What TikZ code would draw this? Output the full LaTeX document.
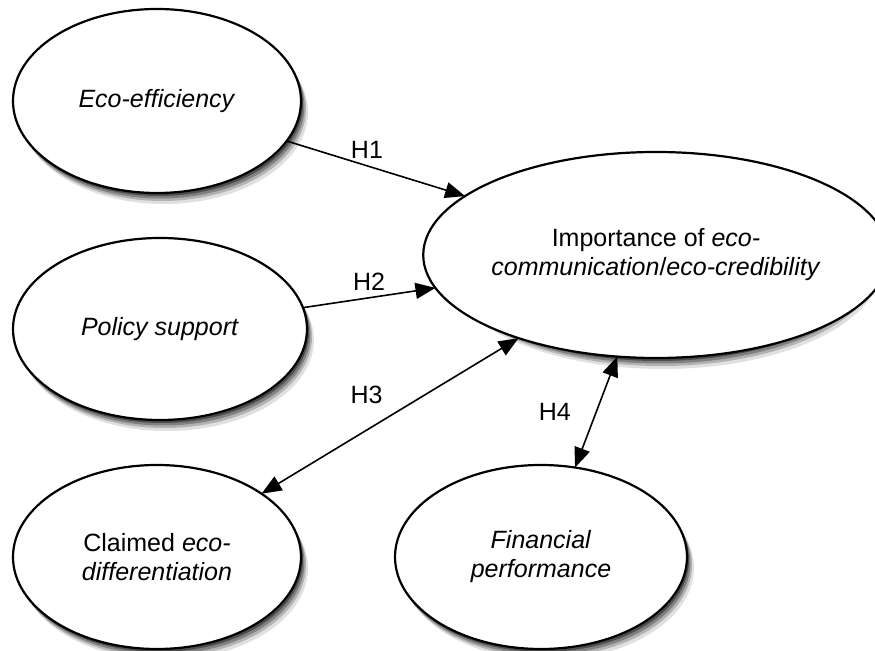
\documentclass[tikz,border=0pt]{standalone}
\usepackage{fontspec}
\setmainfont{Liberation Sans}
\usetikzlibrary{positioning,arrows.meta,shapes.geometric}

\begin{document}
\begin{tikzpicture}[x=0.5pt,y=-0.5pt,>={Triangle[length=10pt,width=8pt]},
  font=\fontsize{12.5}{14.5}\selectfont,
  construct/.style={ellipse,draw,line width=1.1pt,fill=white,inner sep=0pt,outer sep=0pt,align=center},
  hyp/.style={line width=0.8pt}]
\useasboundingbox (0,0) rectangle (875,651);
% soft shadows under the ellipses
\foreach \cx/\cy/\rx/\ry in {157/101/144/92,160/329/147/91,157/557/144/92,541/557/146/92,656/255/218/103}{
  \fill[black!12] (\cx+7,\cy+11) ellipse [x radius=\rx, y radius=\ry];
  \fill[black!30] (\cx+5,\cy+8) ellipse [x radius=\rx, y radius=\ry];
  \fill[black!50] (\cx+3.5,\cy+5.5) ellipse [x radius=\rx, y radius=\ry];
  \fill[black!70] (\cx+2,\cy+3) ellipse [x radius=\rx, y radius=\ry];
}
\node[construct,minimum width=144pt,minimum height=92pt] (eff) at (157,101) {\textit{Eco-efficiency}};
\node[construct,minimum width=147pt,minimum height=91pt] (pol) at (160,329) {\textit{Policy support}};
\node[construct,minimum width=144pt,minimum height=92pt] (cla) at (157,557) {Claimed \textit{eco-}\\\textit{differentiation}};
\node[construct,minimum width=146pt,minimum height=92pt] (fin) at (541,557) {\textit{Financial}\\\textit{performance}};
\node[construct,minimum width=218pt,minimum height=103pt] (imp) at (656,255) {Importance of \textit{eco-}\\\textit{communication}/\textit{eco-credibility}};
\draw[->,hyp] (eff) -- (imp) node[pos=0.45,above]{H1};
\draw[->,hyp] (pol) -- (imp) node[midway,above]{H2};
\draw[<->,hyp] (cla) -- (imp) node[midway,above left,yshift=2.5pt]{H3};
\draw[<->,hyp] (fin) -- (imp) node[midway,left=9pt]{H4};
\end{tikzpicture}
\end{document}
